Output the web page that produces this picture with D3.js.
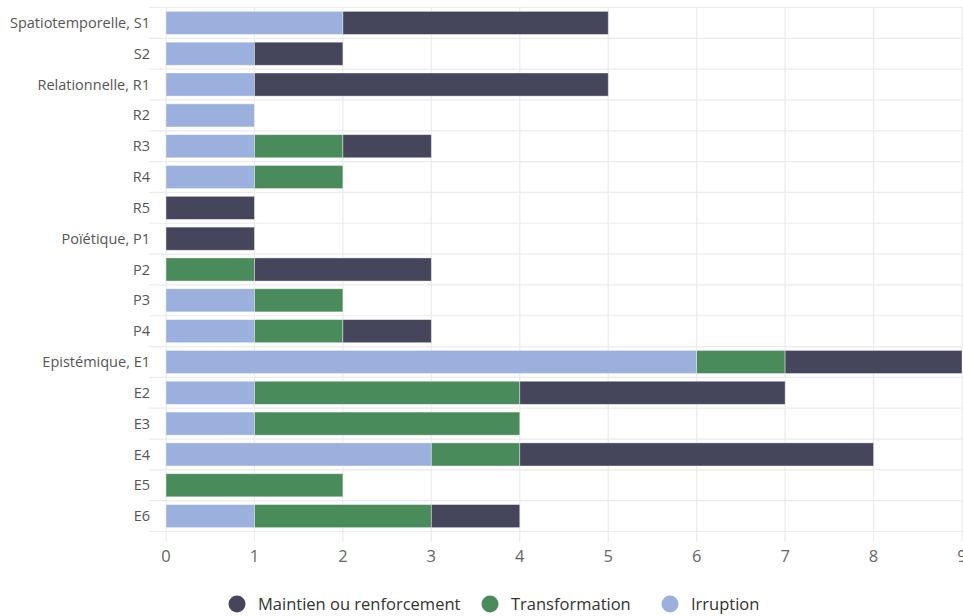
<!DOCTYPE html>
<html>
<head>
<meta charset="utf-8">
<script src="https://cdn.jsdelivr.net/npm/d3@7"></script>
<style>
  body { margin: 0; background: #fff; }
  text { font-family: "Open Sans", "Noto Sans", sans-serif; }
</style>
</head>
<body>
<div id="plot"></div>
<script>
var categories = ["Spatiotemporelle, S1", "S2", "Relationnelle, R1", "R2", "R3", "R4", "R5",
                  "Poïétique, P1", "P2", "P3", "P4",
                  "Epistémique, E1", "E2", "E3", "E4", "E5", "E6"];
var irruption      = [2, 1, 1, 1, 1, 1, 0, 0, 0, 1, 1, 6, 1, 1, 3, 0, 1];
var transformation = [0, 0, 0, 0, 1, 1, 0, 0, 1, 1, 1, 1, 3, 3, 1, 2, 2];
var maintien       = [3, 1, 4, 0, 1, 0, 1, 1, 2, 0, 1, 2, 3, 0, 4, 0, 1];
var xTicks = [0, 1, 2, 3, 4, 5, 6, 7, 8, 9];

var seriesNames  = ["Irruption", "Transformation", "Maintien ou renforcement"];
var seriesColors = ["#9bb0dc", "#4a8b5c", "#45465c"];
var legendOrder  = ["Maintien ou renforcement", "Transformation", "Irruption"];

var W = 963, H = 616;
var plotLeft = 166, plotRight = 962, plotTop = 7.5, plotBottom = 531.5;

var svg = d3.select("#plot").append("svg")
    .attr("width", W)
    .attr("height", H);

var x = d3.scaleLinear().domain([0, 9]).range([plotLeft, plotRight]);
var y = d3.scaleBand().domain(categories).range([plotTop, plotBottom]).paddingInner(0.25).paddingOuter(0.125);

// table for stacking
var table = categories.map(function(c, i) {
    return {cat: c, "Irruption": irruption[i], "Transformation": transformation[i],
            "Maintien ou renforcement": maintien[i]};
});
var stacked = d3.stack().keys(seriesNames)(table);

// horizontal separators between rows
var step = y.step();
var bounds = categories.map(function(c) { return y(c) - y.paddingInner() * step / 2; });
bounds.push(y(categories[categories.length - 1]) + y.bandwidth() + y.paddingInner() * step / 2);
svg.append("g").selectAll("line")
    .data(bounds)
    .enter().append("line")
    .attr("x1", 149).attr("x2", W)
    .attr("y1", function(d) { return d; })
    .attr("y2", function(d) { return d; })
    .attr("stroke", "#ebebeb")
    .attr("stroke-width", 1.2);

// vertical gridlines
svg.append("g").selectAll("line")
    .data(xTicks)
    .enter().append("line")
    .attr("x1", function(d) { return x(d); })
    .attr("x2", function(d) { return x(d); })
    .attr("y1", plotTop)
    .attr("y2", 542)
    .attr("stroke", "#ebebeb")
    .attr("stroke-width", 1.2);

// bars
svg.append("g").selectAll("g")
    .data(stacked)
    .enter().append("g")
    .attr("fill", function(d, i) { return seriesColors[i]; })
    .selectAll("rect")
    .data(function(d) { return d; })
    .enter().append("rect")
    .filter(function(d) { return d[1] > d[0]; })
    .attr("x", function(d) { return x(d[0]); })
    .attr("y", function(d) { return y(d.data.cat); })
    .attr("width", function(d) { return x(d[1]) - x(d[0]); })
    .attr("height", y.bandwidth())
    .attr("stroke", "#ffffff")
    .attr("stroke-opacity", 0.5)
    .attr("stroke-width", 0.8);

// y labels
svg.append("g").selectAll("text")
    .data(categories)
    .enter().append("text")
    .attr("x", 150)
    .attr("y", function(d) { return y(d) + y.bandwidth() / 2; })
    .attr("dy", "0.35em")
    .attr("text-anchor", "end")
    .style("font-size", "14.5px")
    .attr("fill", "#555")
    .text(function(d) { return d; });

// x labels
svg.append("g").selectAll("text")
    .data(xTicks)
    .enter().append("text")
    .attr("x", function(d) { return x(d); })
    .attr("y", 556)
    .attr("dy", "0.35em")
    .attr("text-anchor", "middle")
    .style("font-size", "16.5px")
    .attr("fill", "#666")
    .text(function(d) { return d; });

// legend
var legendX = [237, 490, 670];
var lg = svg.append("g").selectAll("g")
    .data(legendOrder)
    .enter().append("g")
    .attr("transform", function(d, i) { return "translate(" + legendX[i] + ",604)"; });
lg.append("circle")
    .attr("r", 8.5)
    .attr("fill", function(d) { return seriesColors[seriesNames.indexOf(d)]; });
lg.append("text")
    .attr("x", 21)
    .attr("dy", "0.35em")
    .style("font-size", "16.5px")
    .attr("fill", "#333")
    .text(function(d) { return d; });
</script>
</body>
</html>
